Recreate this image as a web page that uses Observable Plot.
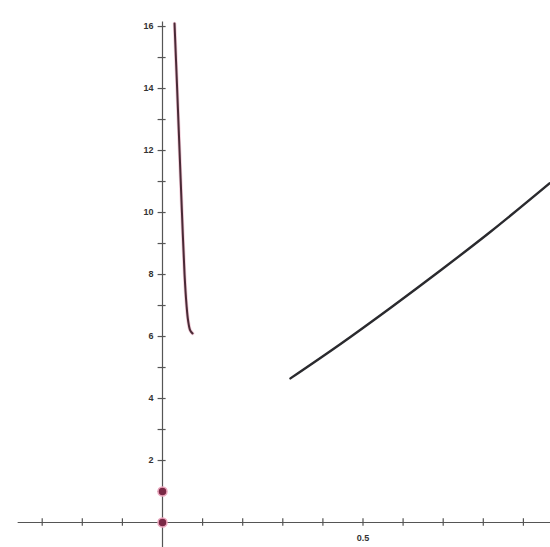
<!DOCTYPE html>
<html>
<head>
<meta charset="utf-8">
<script src="https://cdn.jsdelivr.net/npm/d3@7"></script>
<script src="https://cdn.jsdelivr.net/npm/@observablehq/plot@0.6"></script>
<style>
  html, body { margin: 0; padding: 0; background: #fff; }
  #chart svg { display: block; }
</style>
</head>
<body>
<div id="chart"></div>
<script>
// ---- data ----
const leftX  = [0.030, 0.0365, 0.0425, 0.0485, 0.0550, 0.0600, 0.0640, 0.0690, 0.0750];
const leftY  = [16.1, 14.0, 12.0, 10.0, 8.0, 7.0, 6.5, 6.2, 6.1];
const rightX = [0.319, 0.444, 0.569, 0.693, 0.818, 0.965];
const rightY = [4.65, 5.76, 6.93, 8.13, 9.38, 10.94];
const pointX = [0, 0];
const pointY = [0, 1];
const xTicks = [-0.3, -0.2, -0.1, 0.1, 0.2, 0.3, 0.4, 0.5, 0.6, 0.7, 0.8, 0.9];
const xTickLabels = [0.5];
const yTicks = [1, 2, 3, 4, 5, 6, 7, 8, 9, 10, 11, 12, 13, 14, 15, 16];
const yTickLabels = [2, 4, 6, 8, 10, 12, 14, 16];
const xAxisRange = [-0.36, 0.97];
const yAxisRange = [-0.81, 16.15];

const left = leftX.map((x, i) => ({x, y: leftY[i]}));
const right = rightX.map((x, i) => ({x, y: rightY[i]}));
const pts = pointX.map((x, i) => ({x, y: pointY[i]}));

const axisColor = "#555";

const chart = Plot.plot({
  width: 550,
  height: 547,
  margin: 0,
  style: {background: "#fff", fontFamily: "Liberation Sans, Arial, sans-serif"},
  x: {domain: [-0.404, 0.9676], axis: null},
  y: {domain: [-0.806, 16.84], axis: null},
  marks: [
    // axes
    Plot.ruleY([0], {x1: xAxisRange[0], x2: xAxisRange[1], stroke: axisColor, strokeWidth: 1.2}),
    Plot.ruleX([0], {y1: yAxisRange[0], y2: yAxisRange[1], stroke: axisColor, strokeWidth: 1.2}),
    Plot.ruleX(xTicks, {x: d => d, y1: -0.12, y2: 0.12, stroke: axisColor, strokeWidth: 1.2}),
    Plot.ruleY(yTicks, {y: d => d, x1: -0.011, x2: 0.009, stroke: axisColor, strokeWidth: 1.2}),
    Plot.text(yTickLabels, {x: 0, y: d => d, text: d => String(d), dx: -9, textAnchor: "end", fontSize: 9, fontWeight: "bold", fill: "#333"}),
    Plot.text(xTickLabels, {x: d => d, y: 0, text: d => String(d), dy: 16, fontSize: 9, fontWeight: "bold", fill: "#333"}),
    // left curve (pink halo + dark line)
    Plot.line(left, {x: "x", y: "y", curve: "catmull-rom", stroke: "#e8a8bc", strokeWidth: 3.5, strokeOpacity: 0.6}),
    Plot.line(left, {x: "x", y: "y", curve: "catmull-rom", stroke: "#4a2a36", strokeWidth: 2}),
    // right curve
    Plot.line(right, {x: "x", y: "y", curve: "catmull-rom", stroke: "#2a2a2e", strokeWidth: 2.4}),
    // points
    Plot.dot(pts, {x: "x", y: "y", r: 4.5, fill: "#7a2845", stroke: "#eba6bd", strokeWidth: 1.5})
  ]
});
document.getElementById("chart").appendChild(chart);
</script>
</body>
</html>
